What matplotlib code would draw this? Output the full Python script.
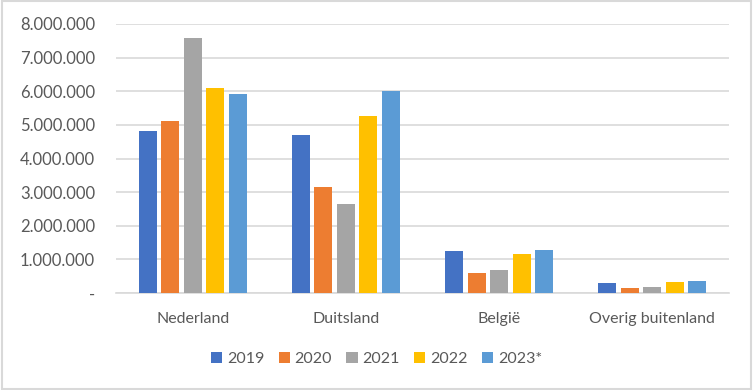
import numpy as np
import matplotlib.pyplot as plt
from matplotlib.ticker import FuncFormatter

plt.rcParams['font.family'] = ['Lato', 'DejaVu Sans']

landen = ['Nederland', 'Duitsland', 'België', 'Overig buitenland']
jaren = ['2019', '2020', '2021', '2022', '2023*']
kleuren = ['#4472c4', '#ed7d31', '#a5a5a5', '#ffc000', '#5b9bd5']

v2019 = [4810000, 4690000, 1240000, 290000]
v2020 = [5110000, 3150000, 590000, 140000]
v2021 = [7580000, 2640000, 670000, 170000]
v2022 = [6090000, 5260000, 1150000, 320000]
v2023 = [5920000, 6000000, 1270000, 350000]
reeksen = [v2019, v2020, v2021, v2022, v2023]

fig = plt.figure(figsize=(7.53, 3.9), dpi=100)
ax = fig.add_axes([116 / 753, 1 - 293 / 390, (729 - 116) / 753, (293 - 24) / 390])

x = np.arange(len(landen))
stap = 0.147
breedte = 0.118
for i, (vals, lab, kl) in enumerate(zip(reeksen, jaren, kleuren)):
    ax.bar(x + (i - 2) * stap, vals, breedte, color=kl, label=lab, zorder=3)

ax.set_xlim(-0.5, len(landen) - 0.5)
ax.set_ylim(0, 8000000)
ax.set_yticks(np.arange(0, 8000001, 1000000))


def fmt(v, pos):
    if v == 0:
        return '-'
    return '{:,.0f}'.format(v).replace(',', '.')


ax.yaxis.set_major_formatter(FuncFormatter(fmt))
ax.yaxis.grid(True, color='#d9d9d9', linewidth=1.2, zorder=0)
for s in ['top', 'right', 'left']:
    ax.spines[s].set_visible(False)
ax.spines['bottom'].set_color('#d9d9d9')
ax.spines['bottom'].set_linewidth(1.2)
ax.tick_params(axis='both', length=0, colors='#595959', labelsize=11.5)
ax.tick_params(axis='y', pad=15, labelsize=12)
ax.tick_params(axis='x', pad=14)
ax.set_xticks(x)
ax.set_xticklabels(landen)

fig.legend(loc='center', bbox_to_anchor=(0.5, 1 - 359 / 390), ncol=5, frameon=False,
           handlelength=0.7, handleheight=0.7, handletextpad=0.3, columnspacing=0.9,
           fontsize=11.5, labelcolor='#595959')

fig.patches.append(plt.Rectangle((0.002, 0.003), 0.995, 0.994, transform=fig.transFigure,
                                 fill=False, edgecolor='#d9d9d9', linewidth=1.5))

fig.savefig('out.png', dpi=100)
